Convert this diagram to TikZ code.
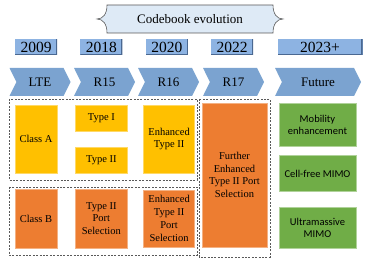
\documentclass[tikz,border=0pt]{standalone}
\usepackage{fontspec}
\setmainfont{Liberation Serif}
\newfontfamily\calibrisub{Carlito}
\usepackage{xcolor}
\definecolor{cbSky}{HTML}{DEEAF6}
\definecolor{cbYear}{HTML}{8DB3E2}
\definecolor{cbYearDark}{HTML}{4A6891}
\definecolor{cbArrow}{HTML}{7BA3D0}
\definecolor{cbYellow}{HTML}{FFC000}
\definecolor{cbOrange}{HTML}{ED7D31}
\definecolor{cbGreen}{HTML}{70AD47}
\definecolor{cbGray}{HTML}{595959}
\usetikzlibrary{shapes.symbols, positioning, calc}

\begin{document}
\begin{tikzpicture}[
  x=1pt, y=-1pt,
  yearbox/.style={fill=cbYear, minimum width=42pt, minimum height=16pt, inner sep=0pt,
    font=\fontsize{15.5}{16}\selectfont,
    path picture={\draw[cbYearDark, line width=2.4pt]
      (path picture bounding box.north east) -- (path picture bounding box.south east)
      -- (path picture bounding box.south west);}},
  relbox/.style={signal, signal to=east, signal from=west, signal pointer angle=127,
    fill=cbArrow, minimum width=61pt, minimum height=28pt, inner sep=0pt,
    font=\fontsize{13}{15}\selectfont},
  cbbox/.style={inner sep=1pt, align=center, font=\fontsize{10.5}{12.8}\selectfont},
  ybox/.style={cbbox, fill=cbYellow, draw=cbYellow!60!white, line width=0.3pt},
  obox/.style={cbbox, fill=cbOrange, draw=cbOrange!60!white, line width=0.3pt},
  gbox/.style={cbbox, fill=cbGreen, draw=cbGreen!55!white, line width=0.6pt,
    minimum width=77pt, font=\calibrisub\fontsize{10.5}{12}\selectfont},
  dashbox/.style={draw=cbGray, dashed, dash pattern=on 2pt off 1.4pt, line width=0.6pt}
]
  \useasboundingbox (0,0) rectangle (374,264);

  % Title banner
  \draw[fill=cbSky, draw=cbGray, line width=0.6pt]
    (107,5) -- (273,5) .. controls (273,14) and (277,19) .. (283,19)
    .. controls (277,19) and (273,24) .. (273,33) -- (107,33)
    .. controls (107,24) and (103,19) .. (97,19)
    .. controls (103,19) and (107,14) .. (107,5) -- cycle;
  \node[font=\fontsize{13}{15}\selectfont] (title) at (190,19) {Codebook evolution};

  % Years
  \node[yearbox] (y2009) at (36,47) {2009};
  \node[yearbox, right=23pt of y2009] (y2018) {2018};
  \node[yearbox, right=23pt of y2018] (y2020) {2020};
  \node[yearbox, right=23pt of y2020] (y2022) {2022};
  \node[yearbox, minimum width=85pt, right=24pt of y2022] (y2023) {2023+};

  % Releases
  \node[relbox] (lte) at (40,82) {LTE};
  \node[relbox] (r15) at (104.5,82) {R15};
  \node[relbox] (r16) at (168.5,82) {R16};
  \node[relbox] (r17) at (233.5,82) {R17};
  \node[relbox, minimum width=86pt] (future) at (318,82) {Future};

  % Class A codebooks
  \node[ybox, minimum width=42pt, minimum height=68pt] (classA) at (36,139) {Class A};
  \node[ybox, minimum width=52pt, minimum height=26pt, right=18pt of classA.north east,
    anchor=north west] (typeI) {Type I};
  \node[ybox, minimum width=52pt, minimum height=26pt, below=16pt of typeI] (typeII) {Type II};
  \node[ybox, minimum width=51pt, minimum height=68pt, right=16pt of typeI.north east,
    anchor=north west] (enhII) {Enhanced\\Type II};

  % Class B codebooks
  \node[obox, minimum width=42pt, minimum height=59pt] (classB) at (36,218.5) {Class B};
  \node[obox, minimum width=52pt, minimum height=59pt, right=18pt of classB] (portII)
    {Type II\\Port\\Selection};
  \node[obox, minimum width=51pt, minimum height=57pt, right=16pt of portII] (enhPort)
    {Enhanced\\Type II\\Port\\Selection};
  \node[obox, minimum width=65pt, minimum height=144pt] (furPort) at (234.5,175)
    {Further\\Enhanced\\Type II Port\\Selection};

  % Future directions
  \node[gbox, minimum height=43pt] (mobility) at (317.5,124.5) {Mobility\\enhancement};
  \node[gbox, minimum height=36pt, below=9pt of mobility] (cellfree) {Cell-free MIMO};
  \node[gbox, minimum height=41pt, below=15pt of cellfree] (umimo) {Ultramassive\\MIMO};

  % Groups
  \draw[dashbox] (9,99) rectangle (197,180);
  \draw[dashbox] (9,187) rectangle (197,255);
  \draw[dashbox] (199,99) rectangle (270,257);
\end{tikzpicture}
\end{document}
